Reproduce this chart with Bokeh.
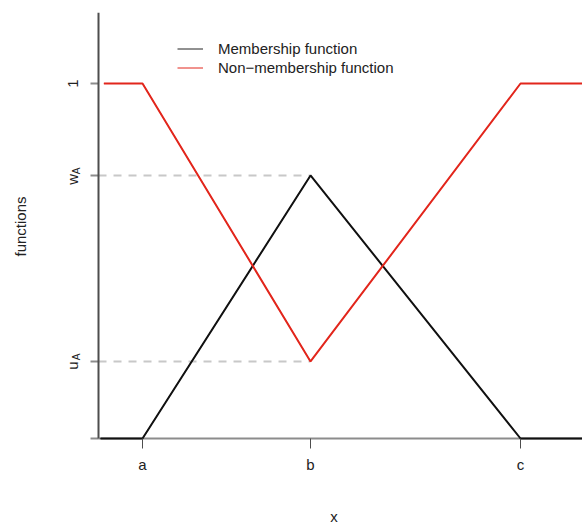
import math
from bokeh.plotting import figure
from bokeh.models import Range1d, FixedTicker, Legend, LegendItem
from bokeh.core.properties import value
from bokeh.embed import file_html
from bokeh.resources import INLINE

# ---- data ----
x_ticks = [2.0, 4.0, 6.5]
x_tick_labels = ["a", "b", "c"]
u_A = 0.217
w_A = 0.741
y_ticks = [0.0, u_A, w_A, 1.0]
y_main_pos = [1.0, w_A, u_A]
y_main_labels = ["1", "w", "u"]
y_sub_pos = [w_A, u_A]
y_sub_labels = ["A", "A"]

memb_x = [1.50, 2.0, 4.0, 6.5, 7.30]
memb_y = [0.0, 0.0, w_A, 0.0, 0.0]
non_x = [1.54, 2.0, 4.0, 6.5, 7.30]
non_y = [1.0, 1.0, u_A, 1.0, 1.0]

guide_y = [w_A, u_A]

X_AXIS = 1.476          # where the y axis crosses (left end of the data area)
XMIN, XMAX = 0.964, 7.238
YMIN, YMAX = -0.005634, 1.2

FONT = "Liberation Sans"
RED = "#e2261c"
TXT = "#222222"

p = figure(width=582, height=527, output_backend="svg", toolbar_location=None,
           x_range=Range1d(XMIN, XMAX), y_range=Range1d(YMIN, YMAX),
           min_border_left=55, min_border_right=0, min_border_top=12, min_border_bottom=87)
p.outline_line_color = None
p.grid.grid_line_color = None
p.background_fill_color = "white"
p.border_fill_color = "white"

# guide dashed lines
p.segment(x0=[X_AXIS] * len(guide_y), y0=guide_y, x1=[x_ticks[1]] * len(guide_y), y1=guide_y,
          line_color="#c8c8c8", line_width=2, line_dash="8 7")

# axis lines and y ticks
p.segment(x0=[X_AXIS], y0=[0.0], x1=[XMAX], y1=[0.0], line_color="#8c8c8c", line_width=2)
p.ray(x=[X_AXIS] * len(y_ticks), y=y_ticks, length=8, length_units="screen", angle=math.pi,
      line_color="#8c8c8c", line_width=2)
p.segment(x0=[X_AXIS], y0=[0.0], x1=[X_AXIS], y1=[YMAX], line_color="#4d4d4d", line_width=2)

# y tick labels (rotated) with subscripts
p.text(x=[X_AXIS] * len(y_main_pos), y=y_main_pos, text=y_main_labels, angle=math.pi / 2,
       x_offset=-26, y_offset=[0, 4, 4], text_align="center", text_baseline="middle",
       text_font=value(FONT), text_font_size="15px", text_color=TXT)
p.text(x=[X_AXIS] * len(y_sub_pos), y=y_sub_pos, text=y_sub_labels, angle=math.pi / 2,
       x_offset=-22.5, y_offset=-4.5, text_align="center", text_baseline="middle",
       text_font=value(FONT), text_font_size="10px", text_color=TXT)

# thin copies used for the legend glyphs (hidden below the main lines)
lg_m = p.line(memb_x, memb_y, line_color="#222222", line_width=1)
lg_n = p.line(non_x, non_y, line_color=RED, line_width=1)

r_m = p.line(memb_x, memb_y, line_color="#111111", line_width=2)
r_n = p.line(non_x, non_y, line_color=RED, line_width=2)

# x axis (ticks + labels; line drawn above)
xa = p.xaxis[0]
xa.ticker = FixedTicker(ticks=x_ticks)
xa.major_label_overrides = {t: l for t, l in zip(x_ticks, x_tick_labels)}
xa.minor_tick_line_color = None
xa.axis_line_color = None
xa.major_tick_line_color = "#4d4d4d"
xa.major_tick_line_width = 1
xa.major_tick_out = 8
xa.major_tick_in = 2
xa.major_label_standoff = 7
xa.major_label_text_font = FONT
xa.major_label_text_font_size = "15px"
xa.major_label_text_color = TXT
xa.axis_label = "\u2003\u2003x"
xa.axis_label_text_font = FONT
xa.axis_label_text_font_size = "15px"
xa.axis_label_text_font_style = "normal"
xa.axis_label_text_color = TXT
xa.axis_label_standoff = 32

# y axis: only its title
ya = p.yaxis[0]
ya.ticker = FixedTicker(ticks=[])
ya.minor_tick_line_color = None
ya.major_tick_line_color = None
ya.axis_line_color = None
ya.major_tick_out = 0
ya.major_tick_in = 0
ya.major_label_standoff = 0
ya.axis_label = "functions"
ya.axis_label_text_font = FONT
ya.axis_label_text_font_size = "15px"
ya.axis_label_text_font_style = "normal"
ya.axis_label_text_color = TXT
ya.axis_label_standoff = 27

legend = Legend(items=[LegendItem(label="Membership function", renderers=[lg_m]),
                       LegendItem(label="Non\u2212membership function", renderers=[lg_n])],
                location=(122, 363), border_line_alpha=0, background_fill_alpha=0,
                padding=0, margin=0, spacing=0, glyph_width=26, glyph_height=19,
                label_height=19, label_standoff=15, label_text_font=FONT,
                label_text_font_size="15px", label_text_color=TXT)
p.add_layout(legend)

open("out.html", "w").write(file_html(p, INLINE))
